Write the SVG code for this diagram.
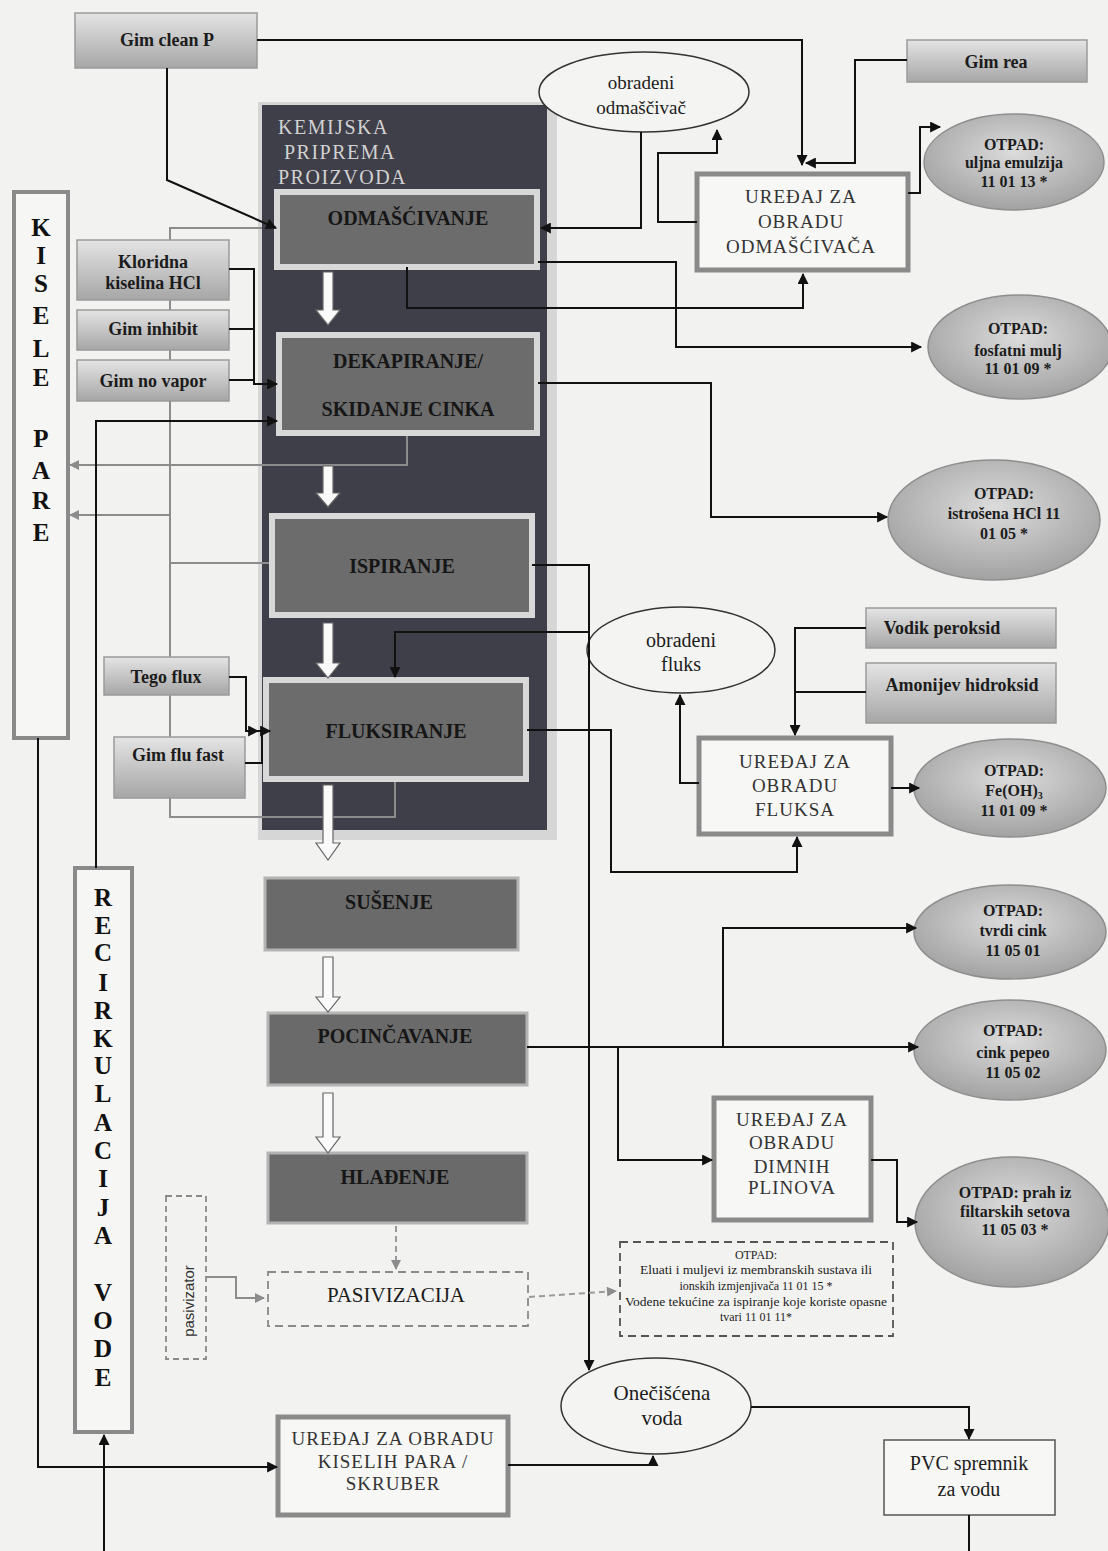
<svg xmlns="http://www.w3.org/2000/svg" width="1108" height="1551" viewBox="0 0 1108 1551">
<style>
.t{font-family:"Liberation Serif","Times New Roman",serif;fill:#1c1c1c;text-anchor:middle}
.inp{fill:url(#gIn);stroke:#9a9a9a;stroke-width:1.5}
.otp{fill:url(#gOt);stroke:#8e8e8e;stroke-width:1.5}
.proc{fill:#6c6c6c;stroke:#d8d8d8;stroke-width:6}
.proc2{fill:#6a6a6a;stroke:#b4b4b4;stroke-width:3}
.dev{fill:#f7f7f5;stroke:#8a8a8a;stroke-width:5}
.ell{fill:#f4f4f2;stroke:#333;stroke-width:1.5}
.side{fill:#f6f6f4;stroke:#8a8a8a;stroke-width:4}
.pt{font-size:20px;font-weight:bold;fill:#161616}
.dt{font-size:19px;letter-spacing:1px;fill:#333}
.ot{font-size:16px;font-weight:bold}
.it{font-size:18px;font-weight:bold}
.big{font-size:25px;font-weight:bold;fill:#111}
.kt{font-family:"Liberation Serif",serif;font-size:20px;letter-spacing:1.5px;fill:#d2d2d2}
.c{fill:none;stroke:#111;stroke-width:2}
.g{fill:none;stroke:#8c8c8c;stroke-width:2}
.d{fill:none;stroke:#9a9a9a;stroke-width:2;stroke-dasharray:6,4}
.wa{fill:#fafafa;stroke:#666;stroke-width:1.2}
</style>
<defs>
<linearGradient id="gIn" x1="0" y1="0" x2="0" y2="1"><stop offset="0" stop-color="#e4e4e4"/><stop offset="1" stop-color="#a6a6a6"/></linearGradient>
<radialGradient id="gOt" cx="0.5" cy="0.4" r="0.6"><stop offset="0" stop-color="#dcdcdc"/><stop offset="1" stop-color="#a2a2a2"/></radialGradient>
<marker id="ah" viewBox="0 0 10 10" refX="9" refY="5" markerWidth="12" markerHeight="11" markerUnits="userSpaceOnUse" orient="auto"><path d="M0,0 L10,5 L0,10 z" fill="#111"/></marker>
<marker id="ag" viewBox="0 0 10 10" refX="9" refY="5" markerWidth="11" markerHeight="10" markerUnits="userSpaceOnUse" orient="auto"><path d="M0,0 L10,5 L0,10 z" fill="#8c8c8c"/></marker>
</defs>
<rect x="0" y="0" width="1108" height="1551" fill="#f2f2f0"/>

<g id="panel">
<rect x="258" y="102" width="299" height="738" fill="#d6d6d6"/>
<rect x="262" y="105" width="285" height="725" fill="#3f3f49"/>
<text class="kt" x="278" y="134">KEMIJSKA</text>
<text class="kt" x="284" y="159">PRIPREMA</text>
<text class="kt" x="278" y="184">PROIZVODA</text>
</g>

<g id="connectors-vapour">
<path class="g" d="M407,436 V465 H70" marker-end="url(#ag)"/>
<path class="g" d="M262,228 H170 V817 H395 V782"/>
<path class="g" d="M170,515 H70" marker-end="url(#ag)"/>
<path class="g" d="M170,563 H270"/>
</g>

<g id="kisele-pare">
<rect class="side" x="14" y="192" width="54" height="546"/>
<text class="t big" x="41" y="236">K</text>
<text class="t big" x="41" y="264">I</text>
<text class="t big" x="41" y="292">S</text>
<text class="t big" x="41" y="324">E</text>
<text class="t big" x="41" y="357">L</text>
<text class="t big" x="41" y="386">E</text>
<text class="t big" x="41" y="447">P</text>
<text class="t big" x="41" y="479">A</text>
<text class="t big" x="41" y="509">R</text>
<text class="t big" x="41" y="541">E</text>
</g>

<g id="recirkulacija">
<rect class="side" x="75" y="868" width="57" height="564"/>
<text class="t big" x="103" y="906">R</text>
<text class="t big" x="103" y="934">E</text>
<text class="t big" x="103" y="961">C</text>
<text class="t big" x="103" y="991">I</text>
<text class="t big" x="103" y="1019">R</text>
<text class="t big" x="103" y="1047">K</text>
<text class="t big" x="103" y="1074">U</text>
<text class="t big" x="103" y="1102">L</text>
<text class="t big" x="103" y="1131">A</text>
<text class="t big" x="103" y="1159">C</text>
<text class="t big" x="103" y="1187">I</text>
<text class="t big" x="103" y="1216">J</text>
<text class="t big" x="103" y="1244">A</text>
<text class="t big" x="103" y="1301">V</text>
<text class="t big" x="103" y="1329">O</text>
<text class="t big" x="103" y="1357">D</text>
<text class="t big" x="103" y="1386">E</text>
</g>

<g id="gim-clean-p"><rect class="inp" x="75" y="13" width="182" height="55"/><text class="t it" x="167" y="46">Gim clean P</text></g>
<g id="gim-rea"><rect class="inp" x="907" y="40" width="180" height="42"/><text class="t it" x="996" y="68">Gim rea</text></g>
<g id="kloridna"><rect class="inp" x="77" y="240" width="152" height="60"/><text class="t it" x="153" y="268">Kloridna</text><text class="t it" x="153" y="289">kiselina HCl</text></g>
<g id="gim-inhibit"><rect class="inp" x="77" y="310" width="152" height="40"/><text class="t it" x="153" y="335">Gim inhibit</text></g>
<g id="gim-no-vapor"><rect class="inp" x="77" y="360" width="152" height="41"/><text class="t it" x="153" y="387">Gim no vapor</text></g>
<g id="tego-flux"><rect class="inp" x="104" y="657" width="125" height="38"/><text class="t it" x="166" y="683">Tego flux</text></g>
<g id="gim-flu-fast"><rect class="inp" x="114" y="737" width="131" height="61"/><text class="t it" x="178" y="761">Gim flu fast</text></g>
<g id="vodik-peroksid"><rect class="inp" x="866" y="608" width="190" height="40"/><text class="t it" x="942" y="634">Vodik peroksid</text></g>
<g id="amonijev-hidroksid"><rect class="inp" x="866" y="663" width="190" height="60"/><text class="t it" x="962" y="691">Amonijev hidroksid</text></g>

<g id="odmascivanje"><rect class="proc" x="277" y="192" width="260" height="75"/><text class="t pt" x="408" y="225">ODMAŠĆIVANJE</text></g>
<g id="dekapiranje"><rect class="proc" x="279" y="335" width="258" height="98"/><text class="t pt" x="408" y="368">DEKAPIRANJE/</text><text class="t pt" x="408" y="416">SKIDANJE CINKA</text></g>
<g id="ispiranje"><rect class="proc" x="272" y="516" width="260" height="99"/><text class="t pt" x="402" y="573">ISPIRANJE</text></g>
<g id="fluksiranje"><rect class="proc" x="266" y="680" width="260" height="99"/><text class="t pt" x="396" y="738">FLUKSIRANJE</text></g>
<g id="susenje"><rect class="proc2" x="265" y="878" width="253" height="72"/><text class="t pt" x="389" y="909">SUŠENJE</text></g>
<g id="pocincavanje"><rect class="proc2" x="268" y="1013" width="259" height="72"/><text class="t pt" x="395" y="1043">POCINČAVANJE</text></g>
<g id="hladenje"><rect class="proc2" x="268" y="1153" width="259" height="70"/><text class="t pt" x="395" y="1184">HLAĐENJE</text></g>
<g id="pasivizacija"><rect x="268" y="1272" width="260" height="54" fill="none" stroke="#8a8a8a" stroke-width="1.8" stroke-dasharray="8,5"/><text class="t" x="396" y="1302" font-size="21" fill="#333">PASIVIZACIJA</text></g>
<g id="pasivizator"><rect x="166" y="1196" width="40" height="163" fill="none" stroke="#8a8a8a" stroke-width="1.8" stroke-dasharray="6,4"/><text x="194" y="1301" transform="rotate(-90 194 1301)" font-family="Liberation Sans,Arial,sans-serif" font-size="15" text-anchor="middle" fill="#333">pasivizator</text></g>

<g id="uredaj-odmascivaca"><rect class="dev" x="697" y="174" width="211" height="96"/><text class="t dt" x="801" y="203">UREĐAJ ZA</text><text class="t dt" x="801" y="228">OBRADU</text><text class="t dt" x="801" y="253">ODMAŠĆIVAČA</text></g>
<g id="uredaj-fluksa"><rect class="dev" x="699" y="738" width="192" height="96"/><text class="t dt" x="795" y="768">UREĐAJ ZA</text><text class="t dt" x="795" y="792">OBRADU</text><text class="t dt" x="795" y="816">FLUKSA</text></g>
<g id="uredaj-dimnih"><rect class="dev" x="714" y="1098" width="157" height="122"/><text class="t dt" x="792" y="1126" font-size="17">UREĐAJ ZA</text><text class="t dt" x="792" y="1149" font-size="17">OBRADU</text><text class="t dt" x="792" y="1173" font-size="17">DIMNIH</text><text class="t dt" x="792" y="1194" font-size="17">PLINOVA</text></g>
<g id="skruber"><rect class="dev" x="278" y="1417" width="230" height="98"/><text class="t dt" x="393" y="1445" font-size="17" letter-spacing="0.3">UREĐAJ ZA OBRADU</text><text class="t dt" x="393" y="1468" font-size="17" letter-spacing="0.3">KISELIH PARA /</text><text class="t dt" x="393" y="1490" font-size="17" letter-spacing="0.3">SKRUBER</text></g>
<g id="pvc-spremnik"><rect x="884" y="1440" width="171" height="75" fill="#f7f7f5" stroke="#555" stroke-width="1.5"/><text class="t" x="969" y="1470" font-size="20">PVC spremnik</text><text class="t" x="969" y="1496" font-size="20">za vodu</text></g>

<g id="obradeni-odmascivac"><ellipse class="ell" cx="644" cy="92" rx="105" ry="40"/><text class="t" x="641" y="89" font-size="19">obradeni</text><text class="t" x="641" y="114" font-size="19">odmaščivač</text></g>
<g id="obradeni-fluks"><ellipse class="ell" cx="681" cy="650" rx="94" ry="43"/><text class="t" x="681" y="647" font-size="20">obradeni</text><text class="t" x="681" y="671" font-size="20">fluks</text></g>
<g id="oneciscena-voda"><ellipse class="ell" cx="656" cy="1406" rx="95" ry="48"/><text class="t" x="662" y="1400" font-size="21">Onečišćena</text><text class="t" x="662" y="1425" font-size="21">voda</text></g>

<g id="otpad-uljna"><ellipse class="otp" cx="1014" cy="162" rx="90" ry="48"/><text class="t ot" x="1014" y="150" font-size="15">OTPAD:</text><text class="t ot" x="1014" y="168" font-size="15">uljna emulzija</text><text class="t ot" x="1014" y="187" font-size="15">11 01  13 *</text></g>
<g id="otpad-fosfatni"><ellipse class="otp" cx="1020" cy="347" rx="92" ry="52"/><text class="t ot" x="1018" y="334">OTPAD:</text><text class="t ot" x="1018" y="356">fosfatni mulj</text><text class="t ot" x="1018" y="374">11 01 09 *</text></g>
<g id="otpad-hcl"><ellipse class="otp" cx="994" cy="520" rx="106" ry="60"/><text class="t ot" x="1004" y="499">OTPAD:</text><text class="t ot" x="1004" y="519">istrošena HCl 11</text><text class="t ot" x="1004" y="539">01 05 *</text></g>
<g id="otpad-feoh"><ellipse class="otp" cx="1010" cy="788" rx="96" ry="49"/><text class="t ot" x="1014" y="776" font-size="15">OTPAD:</text><text class="t ot" x="1014" y="796" font-size="15">Fe(OH)<tspan font-size="10" dy="3">3</tspan></text><text class="t ot" x="1014" y="816" font-size="15">11 01 09 *</text></g>
<g id="otpad-tvrdi-cink"><ellipse class="otp" cx="1010" cy="932" rx="96" ry="47"/><text class="t ot" x="1013" y="916">OTPAD:</text><text class="t ot" x="1013" y="936">tvrdi  cink</text><text class="t ot" x="1013" y="956">11 05 01</text></g>
<g id="otpad-cink-pepeo"><ellipse class="otp" cx="1010" cy="1050" rx="96" ry="50"/><text class="t ot" x="1013" y="1036">OTPAD:</text><text class="t ot" x="1013" y="1058">cink pepeo</text><text class="t ot" x="1013" y="1078">11 05 02</text></g>
<g id="otpad-prah"><ellipse class="otp" cx="1012" cy="1222" rx="97" ry="65"/><text class="t ot" x="1015" y="1198" font-size="14">OTPAD: prah iz</text><text class="t ot" x="1015" y="1217" font-size="14">filtarskih setova</text><text class="t ot" x="1015" y="1235" font-size="14">11 05 03 *</text></g>
<g id="otpad-eluati"><rect x="620" y="1242" width="273" height="94" fill="none" stroke="#555" stroke-width="1.8" stroke-dasharray="8,5"/>
<text class="t" x="756" y="1259" font-size="12" fill="#444">OTPAD:</text>
<text class="t" x="756" y="1274" font-size="12" fill="#444" textLength="232" lengthAdjust="spacingAndGlyphs">Eluati i muljevi iz membranskih sustava ili</text>
<text class="t" x="756" y="1290" font-size="12" fill="#444">ionskih  izmjenjivača 11 01 15 *</text>
<text class="t" x="756" y="1306" font-size="12" fill="#444" textLength="262" lengthAdjust="spacingAndGlyphs">Vodene tekućine za ispiranje koje koriste opasne</text>
<text class="t" x="756" y="1321" font-size="12" fill="#444">tvari 11 01 11*</text></g>

<g id="connectors">
<path class="c" d="M257,40 H802 V165" marker-end="url(#ah)"/>
<path class="c" d="M907,60 H855 V163 H806" marker-end="url(#ah)"/>
<path class="c" d="M167,68 V180 L276,228" marker-end="url(#ah)"/>
<path class="c" d="M641,132 V228 H541" marker-end="url(#ah)"/>
<path class="c" d="M697,222 H658 V153 H717 V130" marker-end="url(#ah)"/>
<path class="c" d="M908,193 H920 V127 H940" marker-end="url(#ah)"/>
<path class="c" d="M407,267 V308 H803 V274" marker-end="url(#ah)"/>
<path class="c" d="M538,262 H676 V347 H921" marker-end="url(#ah)"/>
<path class="c" d="M538,383 H711 V517 H887" marker-end="url(#ah)"/>
<path class="c" d="M229,269 H254 V384 H277" marker-end="url(#ah)"/>
<path class="c" d="M229,329 H254"/>
<path class="c" d="M229,380 H254"/>
<path class="c" d="M96,868 V421 H277" marker-end="url(#ah)"/>
<path class="c" d="M38,738 V1467 H277" marker-end="url(#ah)"/>
<path class="c" d="M104,1551 V1435" marker-end="url(#ah)"/>
<path class="c" d="M532,565 H589 V1370" marker-end="url(#ah)"/>
<path class="c" d="M508,1465 H653 V1456" marker-end="url(#ah)"/>
<path class="c" d="M751,1407 H969 V1439" marker-end="url(#ah)"/>
<path class="c" d="M969,1515 V1551"/>
<path class="c" d="M229,677 H246 V731 H258" marker-end="url(#ah)"/>
<path class="c" d="M246,731 H270" marker-end="url(#ah)"/>
<path class="c" d="M245,763 H262 V731"/>
<path class="c" d="M588,632 H395 V677" marker-end="url(#ah)" stroke="#2a2a2a"/>
<path class="c" d="M527,730 H611 V872 H797 V837" marker-end="url(#ah)"/>
<path class="c" d="M866,628 H795 V735" marker-end="url(#ah)"/>
<path class="c" d="M866,692 H795"/>
<path class="c" d="M699,783 H680 V695" marker-end="url(#ah)"/>
<path class="c" d="M891,788 H919" marker-end="url(#ah)"/>
<path class="c" d="M527,1047 H918" marker-end="url(#ah)"/>
<path class="c" d="M723,1047 V928 H916" marker-end="url(#ah)"/>
<path class="c" d="M618,1047 V1160 H712" marker-end="url(#ah)"/>
<path class="c" d="M871,1160 H897 V1222 H917" marker-end="url(#ah)"/>
<path class="g" d="M206,1277 H236 V1298 H264" marker-end="url(#ag)"/>
<path class="d" d="M396,1226 V1269" marker-end="url(#ag)"/>
<path class="d" d="M529,1297 L616,1291" marker-end="url(#ag)"/>
</g>

<g id="flow-arrows">
<path class="wa" d="M323,272 H333 V310 H340 L328,325 L316,310 H323 Z"/>
<path class="wa" d="M323,466 H333 V493 H340 L328,507 L316,493 H323 Z"/>
<path class="wa" d="M323,623 H333 V663 H340 L328,678 L316,663 H323 Z"/>
<path class="wa" d="M323,785 H333 V843 H340 L328,860 L316,843 H323 Z"/>
<path class="wa" d="M323,957 H333 V997 H340 L328,1012 L316,997 H323 Z"/>
<path class="wa" d="M323,1093 H333 V1137 H340 L328,1153 L316,1137 H323 Z"/>
</g>
</svg>
